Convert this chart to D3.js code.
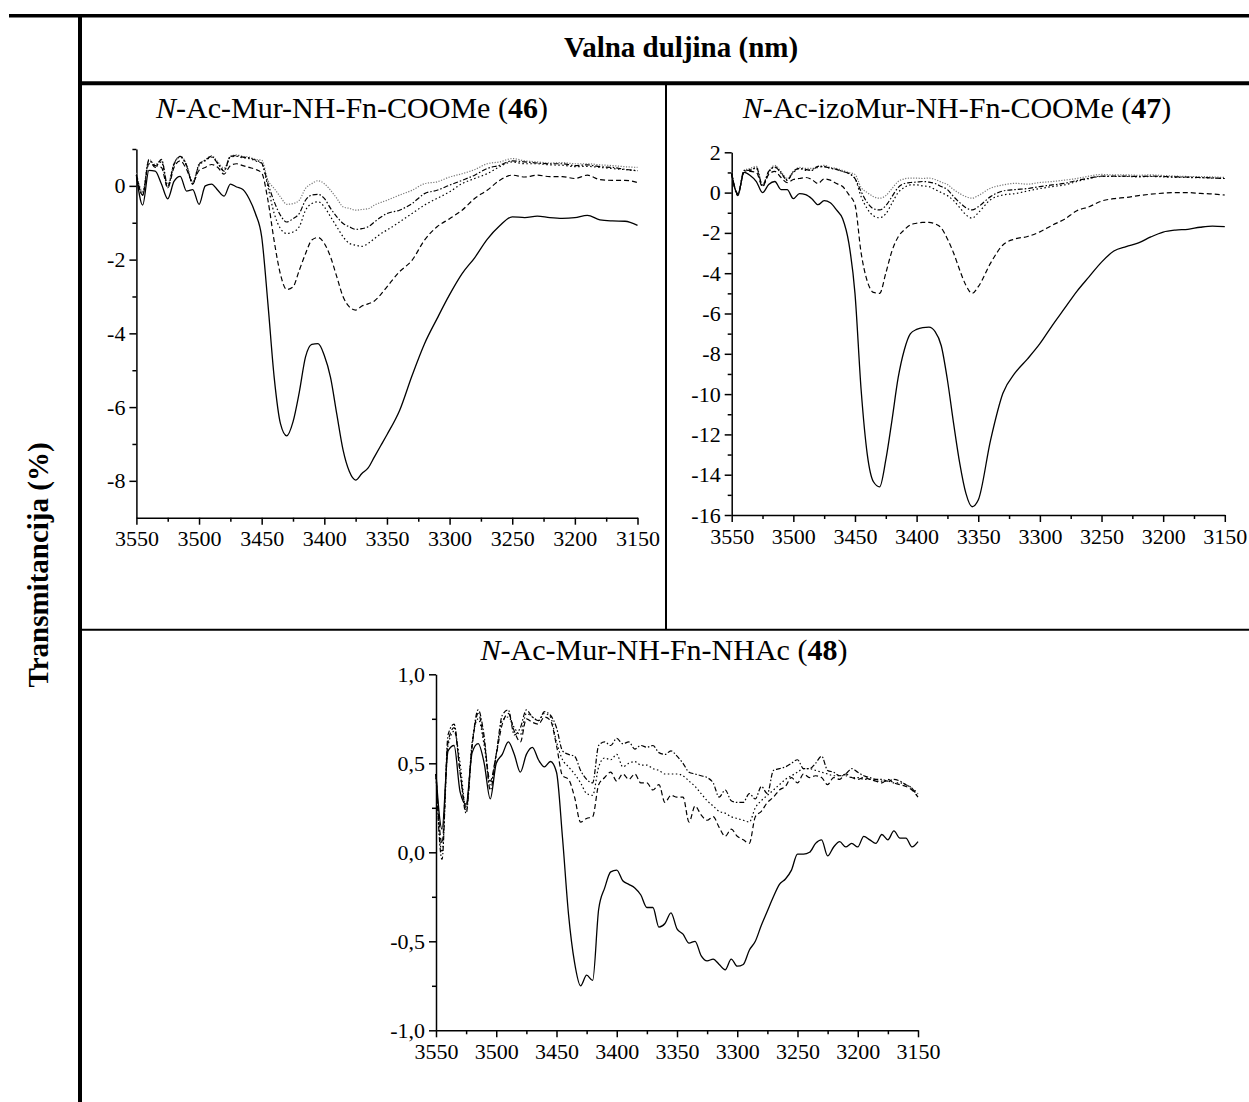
<!DOCTYPE html>
<html>
<head>
<meta charset="utf-8">
<script src="https://cdn.jsdelivr.net/npm/d3@7/dist/d3.min.js"></script>
<style>
  body { margin: 0; background: #fff; }
  svg text { font-family: "Liberation Serif", "Times New Roman", serif; fill: #000; }
  .axis path, .axis line { stroke: #000; stroke-width: 1.5; }
</style>
</head>
<body>
<div id="chart"></div>
<script>
// wavenumber grid (cm-1) for panels 46 and 47
const wnA = [3550,3545,3540,3535,3530,3525,3520,3515,3510,3505,
             3500,3495,3490,3485,3480,3475,3470,3465,3460,3455,
             3450,3445,3440,3435,3430,3425,3420,3415,3410,3405,
             3400,3395,3390,3385,3380,3375,3370,3365,3360,3355,
             3350,3340,3330,3320,3310,3300,3290,3280,3270,3260,
             3250,3240,3230,3220,3210,3200,3190,3180,3170,3160,
             3150];

// wavenumber grid for panel 48
const wnB = [3550,3545,3540,3535,3530,3525,3520,3515,3510,3505,
             3500,3495,3490,3485,3480,3475,3470,3465,3460,3455,
             3450,3445,3440,3435,3430,3425,3420,3415,3410,3405,
             3400,3395,3390,3385,3380,3375,3370,3365,3360,3355,
             3350,3345,3340,3335,3330,3325,3320,3315,3310,3305,
             3300,3295,3290,3285,3280,3275,3270,3265,3260,3255,
             3250,3245,3240,3235,3230,3225,3220,3215,3210,3205,
             3200,3195,3190,3185,3180,3175,3170,3165,3160,3155,
             3150];

// panel 46
const p46Solid = [0.3,-0.52,0.42,0.4,0.05,-0.35,0.12,0.26,-0.14,-0.1,
  -0.5,0.0,0.05,-0.12,-0.28,0.05,-0.03,-0.1,-0.35,-0.75,
  -1.38,-3.2,-5.2,-6.45,-6.78,-6.4,-5.6,-4.64,-4.3,-4.28,
  -4.6,-5.2,-6.2,-7.17,-7.75,-7.98,-7.8,-7.65,-7.35,-7.05,
  -6.75,-6.1,-5.15,-4.28,-3.6,-2.95,-2.38,-1.95,-1.45,-1.08,
  -0.84,-0.86,-0.82,-0.86,-0.88,-0.86,-0.8,-0.92,-0.95,-0.96,
  -1.07];
const p46Dash = [0.25,-0.25,0.6,0.55,0.5,-0.05,0.5,0.68,0.45,0.1,
  0.42,0.5,0.58,0.5,0.32,0.55,0.6,0.55,0.5,0.45,
  0.35,-0.39,-1.5,-2.4,-2.81,-2.74,-2.29,-1.84,-1.47,-1.4,
  -1.56,-1.93,-2.47,-3.01,-3.28,-3.37,-3.26,-3.2,-3.12,-2.95,
  -2.74,-2.33,-2.02,-1.47,-1.11,-0.89,-0.66,-0.34,-0.12,0.15,
  0.29,0.24,0.29,0.25,0.25,0.2,0.29,0.17,0.15,0.15,
  0.09];
const p46Dot = [0.3,-0.2,0.7,0.55,0.65,-0.05,0.6,0.78,0.55,0.05,
  0.55,0.68,0.78,0.62,0.42,0.78,0.8,0.76,0.74,0.68,
  0.6,-0.03,-0.75,-1.16,-1.29,-1.25,-1.11,-0.66,-0.48,-0.43,
  -0.57,-0.84,-1.11,-1.38,-1.56,-1.61,-1.64,-1.56,-1.43,-1.3,
  -1.2,-0.98,-0.75,-0.52,-0.34,-0.16,0.06,0.2,0.33,0.52,
  0.65,0.6,0.6,0.57,0.56,0.52,0.53,0.5,0.47,0.44,
  0.41];
const p46DashDot = [0.3,-0.25,0.7,0.5,0.72,0.0,0.58,0.8,0.55,0.05,
  0.58,0.7,0.8,0.6,0.4,0.8,0.82,0.78,0.76,0.7,
  0.62,0.06,-0.43,-0.8,-0.98,-0.89,-0.75,-0.39,-0.25,-0.23,
  -0.34,-0.61,-0.84,-1.02,-1.11,-1.18,-1.16,-1.11,-0.98,-0.85,
  -0.75,-0.66,-0.48,-0.21,-0.12,0.02,0.15,0.29,0.47,0.56,
  0.68,0.65,0.62,0.6,0.6,0.55,0.57,0.52,0.5,0.45,
  0.41];
const p46Grey = [0.35,-0.15,0.72,0.58,0.7,0.05,0.62,0.8,0.6,0.1,
  0.6,0.7,0.82,0.65,0.48,0.8,0.84,0.8,0.78,0.72,
  0.7,0.15,-0.07,-0.3,-0.5,-0.48,-0.39,-0.07,0.06,0.14,
  0.06,-0.12,-0.34,-0.57,-0.61,-0.66,-0.64,-0.62,-0.52,-0.45,
  -0.39,-0.25,-0.12,0.06,0.11,0.24,0.33,0.44,0.6,0.65,
  0.74,0.68,0.65,0.62,0.63,0.6,0.6,0.57,0.55,0.52,
  0.5];

// panel 47
const p47Solid = [0.9,-0.1,1.0,0.85,0.55,0.0,0.4,0.55,0.15,0.15,
  -0.3,-0.05,-0.1,-0.3,-0.6,-0.4,-0.5,-0.86,-1.3,-2.5,
  -5.0,-9.8,-13.0,-14.35,-14.6,-13.27,-11.3,-9.2,-7.81,-7.0,
  -6.79,-6.7,-6.68,-6.9,-7.6,-9.3,-11.45,-13.44,-14.93,-15.59,
  -15.26,-12.28,-9.96,-8.94,-8.25,-7.5,-6.6,-5.75,-4.9,-4.17,
  -3.45,-2.9,-2.68,-2.5,-2.2,-1.96,-1.86,-1.82,-1.72,-1.66,
  -1.69];
const p47Dash = [0.9,-0.05,1.0,1.05,1.0,0.3,0.9,1.05,0.75,0.5,
  0.65,0.7,0.75,0.65,0.45,0.68,0.62,0.45,0.3,-0.1,
  -0.6,-3.0,-4.4,-4.95,-5.0,-4.0,-2.9,-2.2,-1.85,-1.6,
  -1.52,-1.48,-1.48,-1.55,-1.75,-2.3,-3.0,-3.85,-4.6,-5.0,
  -4.67,-3.5,-2.6,-2.3,-2.18,-1.95,-1.62,-1.32,-0.9,-0.7,
  -0.42,-0.3,-0.24,-0.15,-0.08,-0.03,0.0,0.0,-0.04,-0.07,
  -0.12];
const p47Dot = [0.95,-0.1,1.05,1.15,1.2,0.3,1.0,1.3,0.95,0.65,
  1.0,1.2,1.1,1.15,1.25,1.3,1.2,1.15,1.05,0.95,
  0.7,-0.2,-0.8,-1.15,-1.25,-1.05,-0.53,0.0,0.25,0.38,
  0.38,0.33,0.3,0.15,0.0,-0.15,-0.4,-0.75,-1.1,-1.27,
  -1.0,-0.35,-0.12,-0.05,0.08,0.2,0.3,0.38,0.55,0.7,
  0.8,0.8,0.8,0.78,0.8,0.78,0.76,0.75,0.74,0.72,
  0.7];
const p47DashDot = [0.95,-0.15,1.1,1.1,1.25,0.35,1.05,1.25,1.0,0.6,
  1.05,1.2,1.15,1.1,1.3,1.28,1.22,1.15,1.05,0.95,
  0.7,0.05,-0.5,-0.8,-0.86,-0.65,-0.2,0.25,0.45,0.5,
  0.52,0.55,0.52,0.45,0.3,0.15,-0.2,-0.5,-0.75,-0.86,
  -0.7,-0.2,0.08,0.15,0.2,0.3,0.38,0.46,0.6,0.72,
  0.82,0.82,0.82,0.8,0.82,0.8,0.78,0.77,0.75,0.73,
  0.7];
const p47Grey = [1.0,-0.05,1.1,1.2,1.3,0.4,1.05,1.35,1.05,0.7,
  1.05,1.25,1.2,1.2,1.3,1.35,1.25,1.2,1.1,1.0,
  0.9,0.25,0.0,-0.2,-0.28,-0.15,0.2,0.55,0.68,0.72,
  0.72,0.7,0.72,0.65,0.52,0.4,0.15,-0.05,-0.2,-0.28,
  -0.15,0.22,0.38,0.46,0.42,0.5,0.55,0.62,0.7,0.82,
  0.9,0.88,0.88,0.86,0.88,0.85,0.82,0.8,0.8,0.78,
  0.75];

// panel 48
const p48Solid = [0.44,0.13,0.57,0.6,0.34,0.27,0.56,0.61,0.5,0.3,
  0.5,0.55,0.62,0.55,0.45,0.55,0.59,0.52,0.48,0.51,
  0.45,0.08,-0.35,-0.62,-0.75,-0.69,-0.72,-0.32,-0.2,-0.11,
  -0.1,-0.16,-0.18,-0.2,-0.24,-0.31,-0.31,-0.42,-0.4,-0.34,
  -0.43,-0.46,-0.51,-0.5,-0.58,-0.61,-0.6,-0.63,-0.66,-0.6,
  -0.64,-0.63,-0.55,-0.5,-0.41,-0.33,-0.25,-0.18,-0.15,-0.1,
  -0.01,-0.01,0.0,0.05,0.07,-0.02,0.03,0.06,0.03,0.05,
  0.03,0.09,0.07,0.05,0.1,0.07,0.12,0.08,0.08,0.03,
  0.06];
const p48Dash = [0.44,0.05,0.62,0.7,0.45,0.25,0.6,0.78,0.62,0.4,
  0.55,0.72,0.78,0.68,0.62,0.75,0.73,0.72,0.76,0.74,
  0.6,0.43,0.41,0.31,0.17,0.19,0.2,0.38,0.42,0.45,
  0.4,0.44,0.41,0.44,0.39,0.39,0.35,0.38,0.28,0.32,
  0.31,0.31,0.17,0.26,0.21,0.18,0.2,0.14,0.09,0.13,
  0.09,0.07,0.05,0.2,0.23,0.28,0.31,0.35,0.37,0.42,
  0.39,0.44,0.42,0.43,0.42,0.38,0.42,0.41,0.44,0.42,
  0.41,0.42,0.41,0.4,0.39,0.41,0.39,0.38,0.37,0.35,
  0.31];
const p48Dot = [0.44,0.0,0.6,0.68,0.5,0.24,0.62,0.75,0.6,0.38,
  0.55,0.74,0.76,0.7,0.66,0.78,0.76,0.74,0.78,0.76,
  0.62,0.52,0.48,0.44,0.39,0.33,0.32,0.48,0.53,0.52,
  0.55,0.48,0.5,0.51,0.49,0.49,0.47,0.46,0.44,0.44,
  0.44,0.43,0.4,0.37,0.33,0.29,0.26,0.23,0.22,0.2,
  0.19,0.18,0.17,0.25,0.29,0.32,0.35,0.38,0.41,0.43,
  0.45,0.47,0.47,0.46,0.45,0.44,0.43,0.43,0.43,0.42,
  0.42,0.41,0.41,0.4,0.4,0.4,0.39,0.39,0.38,0.36,
  0.33];
const p48DashDot = [0.44,-0.04,0.66,0.72,0.45,0.22,0.6,0.8,0.65,0.35,
  0.55,0.77,0.8,0.66,0.7,0.8,0.76,0.74,0.79,0.77,
  0.7,0.57,0.55,0.54,0.46,0.41,0.39,0.6,0.62,0.6,
  0.64,0.61,0.62,0.58,0.6,0.59,0.6,0.56,0.55,0.57,
  0.54,0.5,0.45,0.44,0.43,0.42,0.39,0.31,0.35,0.29,
  0.28,0.28,0.33,0.3,0.37,0.33,0.46,0.47,0.48,0.5,
  0.52,0.47,0.47,0.5,0.54,0.46,0.45,0.43,0.44,0.47,
  0.45,0.43,0.42,0.41,0.41,0.4,0.41,0.4,0.38,0.36,
  0.31];

const xTicks = [3550,3500,3450,3400,3350,3300,3250,3200,3150];
const xMinor = [3525,3475,3425,3375,3325,3275,3225,3175];

const lineStyles = {
  solid:   { dash: null,          color: "#000" },
  dash:    { dash: "5,3",         color: "#000" },
  dot:     { dash: "1.5,2.5",     color: "#000" },
  dashDot: { dash: "5,2,1.5,2",   color: "#000" },
  grey:    { dash: "1.2,1.5",     color: "#777" }
};

const width = 1249, height = 1102;
const svg = d3.select("#chart").append("svg")
    .attr("width", width)
    .attr("height", height);

// table rules
const rules = [
  [9, 15.7, 1249, 15.7, 3.5],
  [80, 14, 80, 1102, 4],
  [80, 83.3, 1249, 83.3, 4],
  [666, 85, 666, 630, 2],
  [80, 629.7, 1249, 629.7, 2]
];
svg.selectAll("line.rule").data(rules).enter().append("line")
    .attr("class", "rule")
    .attr("x1", d => d[0]).attr("y1", d => d[1])
    .attr("x2", d => d[2]).attr("y2", d => d[3])
    .attr("stroke", "#000")
    .attr("stroke-width", d => d[4]);

svg.append("text")
    .attr("x", 681).attr("y", 57)
    .attr("text-anchor", "middle")
    .style("font-size", "29px").style("font-weight", "bold")
    .text("Valna duljina (nm)");

svg.append("text")
    .attr("transform", "translate(48,565) rotate(-90)")
    .attr("text-anchor", "middle")
    .style("font-size", "29px").style("font-weight", "bold")
    .text("Transmitancija (%)");

const panels = [
  {
    name: "-Ac-Mur-NH-Fn-COOMe (", num: "46", tx: 352, ty: 118,
    xr: [136.4, 637.5], yr: [517.7, 149], yd: [-9, 1],
    yTicks: [0, -2, -4, -6, -8], yMinor: [1, -1, -3, -5, -7],
    fmt: d => String(d), wn: wnA,
    series: [["solid", p46Solid], ["dash", p46Dash], ["dot", p46Dot], ["dashDot", p46DashDot], ["grey", p46Grey]]
  },
  {
    name: "-Ac-izoMur-NH-Fn-COOMe (", num: "47", tx: 957, ty: 118,
    xr: [731.7, 1224.8], yr: [515, 152.3], yd: [-16, 2],
    yTicks: [2, 0, -2, -4, -6, -8, -10, -12, -14, -16], yMinor: [1, -1, -3, -5, -7, -9, -11, -13, -15],
    fmt: d => String(d), wn: wnA,
    series: [["solid", p47Solid], ["dash", p47Dash], ["dot", p47Dot], ["dashDot", p47DashDot], ["grey", p47Grey]]
  },
  {
    name: "-Ac-Mur-NH-Fn-NHAc (", num: "48", tx: 664, ty: 660,
    xr: [436, 918], yr: [1030.3, 674.3], yd: [-1, 1],
    yTicks: [1, 0.5, 0, -0.5, -1], yMinor: [0.75, 0.25, -0.25, -0.75],
    fmt: d => d.toFixed(1).replace(".", ","), wn: wnB,
    series: [["solid", p48Solid], ["dash", p48Dash], ["dot", p48Dot], ["dashDot", p48DashDot]]
  }
];

panels.forEach(p => {
  const x = d3.scaleLinear().domain([3550, 3150]).range(p.xr);
  const y = d3.scaleLinear().domain(p.yd).range(p.yr);
  const g = svg.append("g");

  // title
  const t = g.append("text")
      .attr("x", p.tx).attr("y", p.ty)
      .attr("text-anchor", "middle")
      .style("font-size", "30px");
  t.append("tspan").style("font-style", "italic").text("N");
  t.append("tspan").text(p.name);
  t.append("tspan").style("font-weight", "bold").text(p.num);
  t.append("tspan").text(")");

  // minor ticks
  g.append("g").attr("class", "axis")
      .attr("transform", "translate(0," + p.yr[0] + ")")
      .call(d3.axisBottom(x).tickValues(xMinor).tickSize(4).tickSizeOuter(0).tickFormat(""))
      .call(a => a.select(".domain").remove());
  g.append("g").attr("class", "axis")
      .attr("transform", "translate(" + p.xr[0] + ",0)")
      .call(d3.axisLeft(y).tickValues(p.yMinor).tickSize(4).tickSizeOuter(0).tickFormat(""))
      .call(a => a.select(".domain").remove());

  // major ticks
  g.append("g").attr("class", "axis")
      .attr("transform", "translate(0," + p.yr[0] + ")")
      .call(d3.axisBottom(x).tickValues(xTicks).tickSize(7).tickSizeOuter(0).tickPadding(6).tickFormat(d => String(d)))
      .call(a => a.selectAll("text").style("font-size", "22px").style("font-family", "Liberation Serif"));
  g.append("g").attr("class", "axis")
      .attr("transform", "translate(" + p.xr[0] + ",0)")
      .call(d3.axisLeft(y).tickValues(p.yTicks).tickSize(7).tickSizeOuter(0).tickPadding(4).tickFormat(p.fmt))
      .call(a => a.selectAll("text").style("font-size", "22px").style("font-family", "Liberation Serif"));

  const line = d3.line()
      .x((d, i) => x(p.wn[i]))
      .y(d => y(d))
      .curve(d3.curveMonotoneX);

  // lighter curves first, solid on top
  p.series.slice().reverse().forEach(([key, vals]) => {
    const st = lineStyles[key];
    g.append("path")
        .datum(vals)
        .attr("fill", "none")
        .attr("stroke", st.color)
        .attr("stroke-width", key === "solid" ? 1.3 : 1.2)
        .attr("stroke-dasharray", st.dash)
        .attr("d", line);
  });
});
</script>
</body>
</html>
